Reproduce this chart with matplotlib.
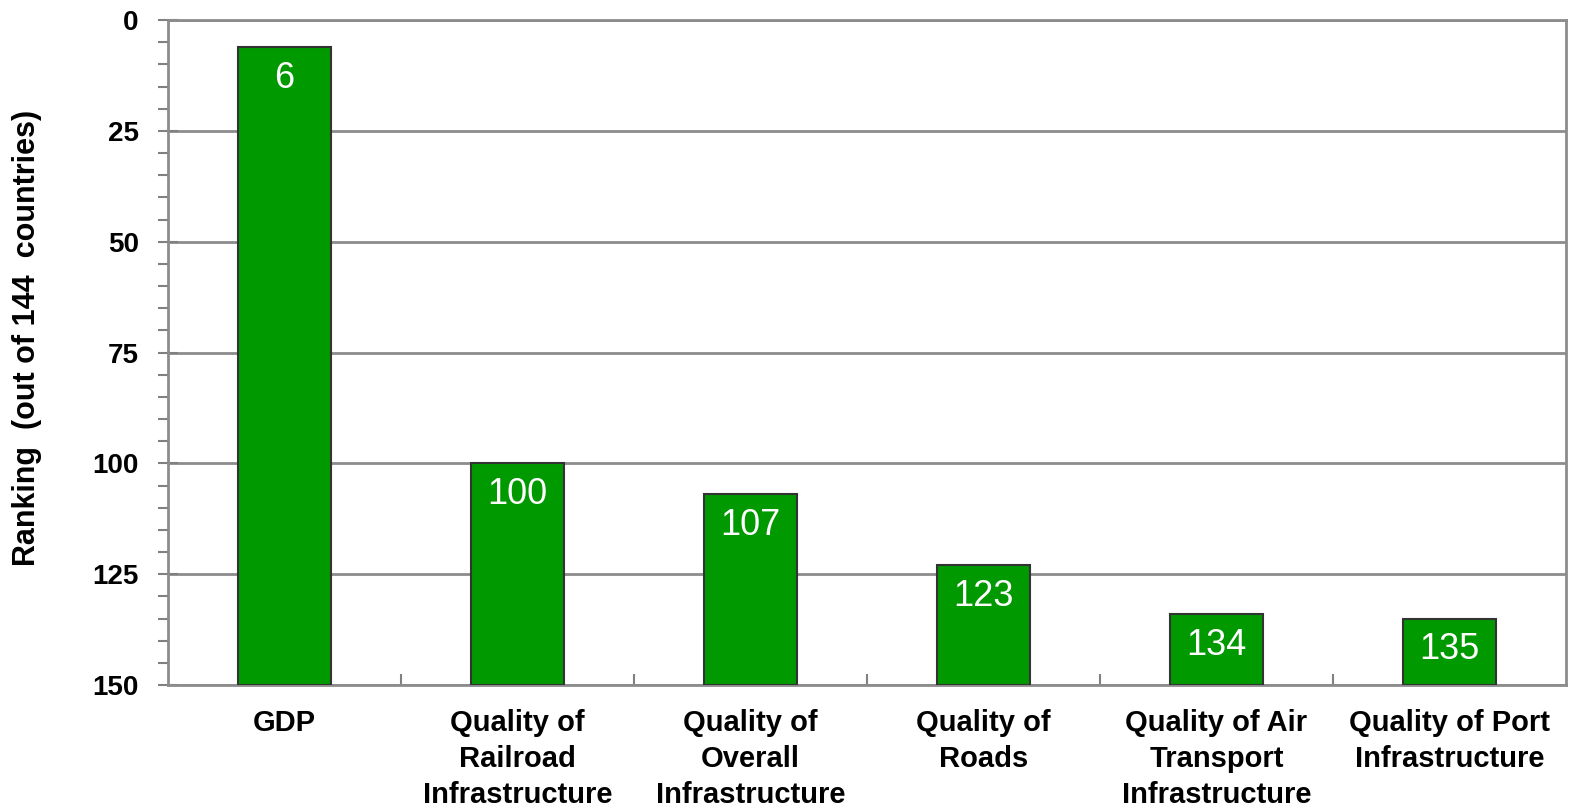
import matplotlib
matplotlib.use("Agg")
import matplotlib.pyplot as plt
import matplotlib.ticker as ticker

plt.rcParams["font.family"] = ["Liberation Sans", "DejaVu Sans"]

# Rankings (out of 144 countries)
categories = ["GDP", "Quality of\nRailroad\nInfrastructure", "Quality of\nOverall\nInfrastructure",
              "Quality of\nRoads", "Quality of Air\nTransport\nInfrastructure",
              "Quality of Port\nInfrastructure"]
rankings = [6, 100, 107, 123, 134, 135]
y_max = 150

fig = plt.figure(figsize=(15.79, 8.06), dpi=100)
ax = fig.add_axes([0.1064, 0.150, 0.8854, 0.825])

x = range(len(categories))
heights = [y_max - r for r in rankings]
bars = ax.bar(x, heights, bottom=rankings, width=0.4, color="#009900",
              edgecolor="#333333", linewidth=1.5, zorder=3)

for xi, r in zip(x, rankings):
    ax.annotate(f"{r}", xy=(xi, r), xytext=(0, -10), textcoords="offset points",
                ha="center", va="top", fontsize=26, color="white", zorder=4)

ax.set_xlim(-0.5, len(categories) - 0.5)
ax.set_ylim(y_max, 0)

ax.yaxis.set_major_locator(ticker.MultipleLocator(25))
ax.yaxis.set_minor_locator(ticker.MultipleLocator(5))
ax.yaxis.grid(True, which="major", color="#8c8c8c", linewidth=2, zorder=0)
ax.set_axisbelow(True)

ax.set_xticks(list(x))
ax.set_xticklabels(categories, fontsize=21, fontweight="bold", linespacing=1.37)
ax.tick_params(axis="x", length=0, pad=17)
# boundary ticks between categories
ax.xaxis.set_minor_locator(ticker.FixedLocator([i + 0.5 for i in range(len(categories) - 1)]))
ax.tick_params(axis="x", which="minor", direction="in", length=8, width=1.5, color="#808080")

ax.tick_params(axis="y", which="major", direction="inout", length=14, width=1.5,
               color="#808080", labelsize=20, pad=14)
ax.tick_params(axis="y", which="minor", direction="out", length=7, width=1.5, color="#808080")
for lbl in ax.get_yticklabels():
    lbl.set_fontweight("bold")

ax.set_ylabel("Ranking  (out of 144  countries)", fontsize=22, fontweight="bold", labelpad=36)
ax.yaxis.label.set_y(0.522)

for side in ["left", "bottom", "top", "right"]:
    ax.spines[side].set_color("#8c8c8c")
    ax.spines[side].set_linewidth(2)

fig.savefig("out.png", dpi=100, facecolor="white")
